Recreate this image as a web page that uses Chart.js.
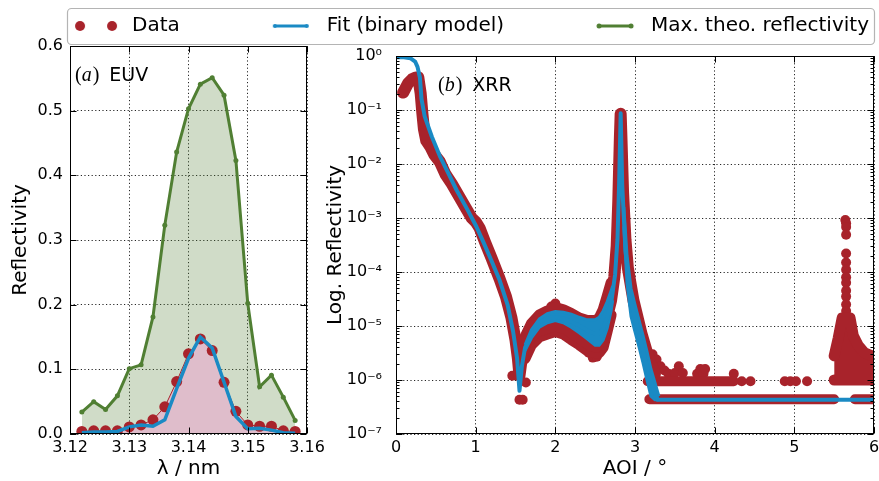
<!DOCTYPE html>
<html>
<head>
<meta charset="utf-8">
<script src="https://cdn.jsdelivr.net/npm/chart.js@4"></script>
<style>
    html, body { margin: 0; padding: 0; background: #fff; }
    #wrap { position: relative; width: 879px; height: 481px; overflow: hidden; }
    canvas { position: absolute; }
    #euvChart { left: -30px; top: 0; }
    #xrrChart { left: 315px; top: 45px; }
</style>
</head>
<body>
<div id="wrap">
    <canvas id="euvChart" width="909" height="481"></canvas>
    <canvas id="xrrChart" width="564" height="436"></canvas>
</div>
<script>
(() => {
    "use strict";

    // (a) EUV reflectivity vs wavelength
    const euvWavelength = [3.122, 3.124, 3.126, 3.128, 3.130, 3.132, 3.134, 3.136, 3.138, 3.140,
        3.142, 3.144, 3.146, 3.148, 3.150, 3.152, 3.154, 3.156, 3.158];
    const euvData = [0.004, 0.005, 0.005, 0.005, 0.011, 0.014, 0.022, 0.042, 0.081, 0.124,
        0.147, 0.129, 0.080, 0.035, 0.014, 0.012, 0.012, 0.005, 0.004];
    const euvFit = [0.002, 0.003, 0.003, 0.004, 0.011, 0.014, 0.012, 0.022, 0.070, 0.117,
        0.150, 0.133, 0.080, 0.027, 0.008, 0.009, 0.006, 0.002, 0.001];
    const euvMaxTheo = [0.034, 0.050, 0.038, 0.059, 0.101, 0.107, 0.181, 0.323, 0.436, 0.503,
        0.541, 0.551, 0.524, 0.423, 0.202, 0.073, 0.091, 0.057, 0.021];
    const euvTicksX = [3.12, 3.13, 3.14, 3.15, 3.16];
    const euvTicksY = [0, 0.1, 0.2, 0.3, 0.4, 0.5, 0.6];

    // (b) XRR, fit curve
    const fitAoi = [0, 0.1, 0.18, 0.24, 0.27, 0.3, 0.32, 0.36, 0.45, 0.55,
        0.65, 0.76, 0.9, 1.01, 1.1, 1.2, 1.3, 1.4, 1.47, 1.52,
        1.55, 1.58, 1.62, 1.7, 1.8, 1.9, 2.0, 2.1, 2.2, 2.3,
        2.4, 2.5, 2.55, 2.6, 2.65, 2.7, 2.75, 2.78, 2.8, 2.82,
        2.84, 2.88, 2.95, 3.05, 3.13, 3.22, 3.28, 4.0, 5.0, 6.0];
    const fitR = [0.95, 0.95, 0.91, 0.79, 0.63, 0.40, 0.16, 0.076, 0.032, 0.014,
        7.1e-3, 3.3e-3, 1.4e-3, 6.9e-4, 3.5e-4, 1.6e-4, 7.1e-5, 2.5e-5, 7.9e-6, 2.5e-6,
        6.3e-7, 1.8e-6, 4.0e-6, 7.1e-6, 1.17e-5, 1.38e-5, 1.45e-5, 1.38e-5, 1.2e-5, 1.02e-5,
        8.3e-6, 7.1e-6, 7.1e-6, 8.9e-6, 1.4e-5, 2.6e-5, 8.9e-5, 4.0e-4, 4.0e-3, 0.087,
        4.0e-3, 2.5e-4, 2.8e-5, 7.4e-6, 2.3e-6, 7.6e-7, 4.3e-7, 4.3e-7, 4.3e-7, 4.3e-7];
    // fast fringes of the fit, drawn as an envelope
    const fitBandAoi = [1.62, 1.7, 1.8, 1.9, 2.0, 2.1, 2.2, 2.3, 2.4, 2.5, 2.55, 2.6, 2.65, 2.7, 2.72];
    const fitBandHi = [4.5e-6, 8.5e-6, 1.35e-5, 1.7e-5, 1.86e-5, 1.8e-5, 1.65e-5, 1.45e-5, 1.3e-5, 1.3e-5,
        1.45e-5, 1.9e-5, 2.8e-5, 4.5e-5, 5.5e-5];
    const fitBandLo = [3.5e-6, 6.0e-6, 9.5e-6, 1.15e-5, 1.26e-5, 1.15e-5, 9.5e-6, 7.5e-6, 5.8e-6, 4.4e-6,
        4.4e-6, 5.5e-6, 9.0e-6, 1.9e-5, 3.0e-5];
    const fitFlankAoi = [2.86, 2.9, 2.95, 3.0, 3.05, 3.1, 3.15, 3.2, 3.25, 3.3];
    const fitFlankHi = [1.6e-3, 2.0e-4, 5.0e-5, 2.5e-5, 1.3e-5, 6.8e-6, 3.4e-6, 1.6e-6, 9.0e-7, 5.0e-7];
    const fitFlankLo = [7.0e-4, 6.0e-5, 1.5e-5, 7.8e-6, 4.1e-6, 2.1e-6, 1.0e-6, 5.0e-7, 4.3e-7, 4.3e-7];

    // (b) XRR, measured data
    const dataAoi = [0.09, 0.15, 0.2, 0.25, 0.28, 0.31, 0.33, 0.35, 0.38, 0.43,
        0.48, 0.55, 0.62, 0.7, 0.8, 0.88, 0.95, 1.0, 1.05, 1.12,
        1.2, 1.3, 1.38, 1.45, 1.5, 1.53, 1.55, 1.57, 1.6, 1.65,
        1.7, 1.8, 1.9, 2.0, 2.1, 2.2, 2.3, 2.4, 2.5, 2.55,
        2.6, 2.65, 2.7, 2.74, 2.77, 2.79, 2.81, 2.82, 2.83, 2.85,
        2.88, 2.91, 2.98, 3.08, 3.18, 3.25];
    const dataR = [0.21, 0.31, 0.37, 0.40, 0.40, 0.2, 0.09, 0.045, 0.027, 0.021,
        0.015, 0.011, 6.5e-3, 4.3e-3, 2.4e-3, 1.5e-3, 1.0e-3, 8.5e-4, 6.5e-4, 3.5e-4,
        1.8e-4, 7.5e-5, 3.5e-5, 1.4e-5, 5.5e-6, 2.5e-6, 1.2e-6, 2.0e-6, 3.8e-6, 6.5e-6,
        9.5e-6, 1.3e-5, 1.45e-5, 1.55e-5, 1.45e-5, 1.3e-5, 1.1e-5, 9.0e-6, 7.5e-6, 7.5e-6,
        9.5e-6, 1.5e-5, 3.0e-5, 8.0e-5, 3.0e-4, 2.0e-3, 0.03, 0.085, 0.03, 3.0e-3,
        4.0e-4, 1.2e-4, 3.0e-5, 7.4e-6, 2.3e-6, 1.3e-6];
    const dataBandAoi = [1.62, 1.7, 1.8, 1.9, 2.0, 2.1, 2.2, 2.3, 2.4, 2.5, 2.55, 2.6, 2.65, 2.7];
    const dataBandHi = [6.3e-6, 1.1e-5, 1.6e-5, 1.9e-5, 2.2e-5, 2.0e-5, 1.7e-5, 1.4e-5, 1.26e-5, 1.26e-5,
        1.4e-5, 2.0e-5, 3.5e-5, 6.3e-5];
    const dataBandLo = [2.5e-6, 4.5e-6, 6.3e-6, 7.1e-6, 7.9e-6, 7.1e-6, 5.6e-6, 4.5e-6, 3.5e-6, 3.2e-6,
        3.2e-6, 4.0e-6, 7.9e-6, 1.6e-5];
    // detector floor: two count levels
    const floorAoi = [3.18, 5.5, 5.63, 5.76, 6.05];
    const floorR = [4.4e-7, 4.4e-7, null, 4.4e-7, 4.4e-7];
    const rowAoi = [3.16, 4.24];
    const rowR = [9.5e-7, 9.5e-7];
    // second order peak near 5.65 deg
    const peakAoi = [5.5, 5.55, 5.6, 5.65, 5.7, 5.74, 5.8, 5.88, 6.05];
    const peakHi = [2.8e-6, 5.9e-6, 1.4e-5, 1.4e-5, 1.4e-5, 6.6e-6, 4.4e-6, 3.2e-6, 2.5e-6];
    const peakLo = [1.0e-6, 1.0e-6, 1.0e-6, 1.0e-6, 1.0e-6, 1.0e-6, 1.0e-6, 1.0e-6, 1.0e-6];
    // single points
    const dotAoi = [1.46, 1.55, 1.59, 1.63, 1.95, 2.0, 2.3, 2.36, 2.42, 2.47, 2.52,
        3.22, 3.27, 3.32, 3.37, 3.42, 3.5, 3.55, 3.6, 3.78, 3.82, 3.86, 3.88, 4.24,
        4.34, 4.45, 4.88, 4.95, 5.02, 5.16,
        5.64, 5.65, 5.65, 5.65, 5.65, 5.65, 5.65, 5.65, 5.65, 5.65, 5.65, 5.65, 5.65];
    const dotR = [1.2e-6, 4.3e-7, 4.3e-7, 9.0e-7, 2.3e-5, 2.6e-5, 5.0e-6, 4.0e-6, 3.2e-6, 2.6e-6, 2.7e-6,
        3.0e-6, 2.4e-6, 1.8e-6, 1.5e-6, 1.3e-6, 1.35e-6, 1.8e-6, 1.35e-6, 1.3e-6, 1.6e-6, 1.3e-6, 1.6e-6, 1.3e-6,
        9.5e-7, 9.5e-7, 9.5e-7, 9.5e-7, 9.5e-7, 9.5e-7,
        9.2e-4, 8.0e-4, 6.8e-4, 4.9e-4, 2.2e-4, 1.5e-4, 1.1e-4, 8.0e-5, 6.3e-5, 4.5e-5, 3.5e-5, 2.5e-5, 1.9e-5];

    const xrrTicksX = [0, 1, 2, 3, 4, 5, 6];
    const xrrDecades = [1e-7, 1e-6, 1e-5, 1e-4, 1e-3, 1e-2, 1e-1, 1];
    const xrrDecadeLabels = ["10\u207B\u2077", "10\u207B\u2076", "10\u207B\u2075", "10\u207B\u2074",
        "10\u207B\u00B3", "10\u207B\u00B2", "10\u207B\u00B9", "10\u2070"];

    const RED = "#a8232b";
    const PINK = "#dfbdcb";
    const BLUE = "#1a8ac4";
    const GREEN = "#507f33";
    const GREEN_FILL = "rgba(80, 127, 51, 0.27)";
    const LEGEND_BOX = 127;

    Chart.defaults.font.family = "'DejaVu Sans', sans-serif";
    Chart.defaults.color = "#000";

    const toPoints = (xs, ys) => xs.map((x, i) => ({ x, y: ys[i] }));

    // legend handles: blank lead-in, then a 32px handle ending 10px before the text box
    const makeHandle = (color, dotRadius, lineWidth) => {
        const c = document.createElement("canvas");
        c.width = LEGEND_BOX;
        c.height = 14;
        const g = c.getContext("2d");
        const x0 = LEGEND_BOX - 42;
        const x1 = LEGEND_BOX - 10;
        g.fillStyle = color;
        g.strokeStyle = color;
        if (lineWidth) {
            g.lineWidth = lineWidth;
            g.beginPath();
            g.moveTo(x0, 7);
            g.lineTo(x1, 7);
            g.stroke();
        }
        [x0, x1].forEach((x) => {
            g.beginPath();
            g.arc(x, 7, dotRadius, 0, Math.PI * 2);
            g.fill();
        });
        return c;
    };
    const legendHandles = [makeHandle(RED, 5, 0), makeHandle(BLUE, 2, 3), makeHandle(GREEN, 2.5, 3)];

    const legendFrame = {
        id: "legendFrame",
        afterDraw(chart) {
            const boxes = chart.legend.legendHitBoxes;
            if (!boxes || !boxes.length) return;
            const ctx = chart.ctx;
            const first = boxes[0];
            const last = boxes[boxes.length - 1];
            const left = Math.round(first.left + LEGEND_BOX - 42 - 13) + 0.5;
            const right = Math.min(Math.round(last.left + last.width + 7), chart.width - 5) + 0.5;
            const cy = first.top + first.height / 2;
            const top = Math.round(cy - 18) + 0.5;
            const bottom = Math.round(cy + 18) + 0.5;
            ctx.save();
            ctx.strokeStyle = "#b4b4b4";
            ctx.lineWidth = 1.2;
            ctx.beginPath();
            ctx.roundRect(left, top, right - left, bottom - top, 4);
            ctx.stroke();
            ctx.restore();
        }
    };

    const frameTicks = (logMinor) => ({
        id: "frameTicks",
        afterDatasetsDraw(chart) {
            const { ctx, chartArea: a, scales: { x, y } } = chart;
            const L = Math.round(a.left) + 0.5;
            const R = Math.round(a.right) - 0.5;
            const T = Math.round(a.top) + 0.5;
            const B = Math.round(a.bottom) - 0.5;
            ctx.save();
            ctx.strokeStyle = "#000";
            ctx.lineWidth = 1;
            ctx.beginPath();
            x.ticks.forEach((t) => {
                const px = Math.round(x.getPixelForValue(t.value)) + 0.5;
                ctx.moveTo(px, T); ctx.lineTo(px, T + 6);
                ctx.moveTo(px, B); ctx.lineTo(px, B - 6);
            });
            y.ticks.forEach((t) => {
                const py = Math.round(y.getPixelForValue(t.value)) + 0.5;
                ctx.moveTo(L, py); ctx.lineTo(L + 6, py);
                ctx.moveTo(R, py); ctx.lineTo(R - 6, py);
            });
            if (logMinor) {
                xrrDecades.slice(0, -1).forEach((d) => {
                    for (let k = 2; k <= 9; k++) {
                        const py = Math.round(y.getPixelForValue(d * k)) + 0.5;
                        ctx.moveTo(L, py); ctx.lineTo(L + 3, py);
                        ctx.moveTo(R, py); ctx.lineTo(R - 3, py);
                    }
                });
            }
            ctx.stroke();
            ctx.strokeRect(L, T, R - L, B - T);
            ctx.restore();
        }
    });

    const panelLabel = (letter, name, dx) => ({
        id: "panelLabel",
        afterDraw(chart) {
            const { ctx, chartArea: a } = chart;
            let x = a.left + dx;
            const y = a.top + 35;
            ctx.save();
            ctx.fillStyle = "#000";
            ctx.textBaseline = "alphabetic";
            ctx.font = "20px 'Liberation Serif'";
            ctx.fillText("(", x, y);
            x += ctx.measureText("(").width;
            ctx.font = "italic 20px 'Liberation Serif'";
            ctx.fillText(letter, x, y);
            x += ctx.measureText(letter).width + 1;
            ctx.font = "20px 'Liberation Serif'";
            ctx.fillText(")", x, y);
            x += ctx.measureText(")").width + 10;
            ctx.font = "19px 'DejaVu Sans'";
            ctx.fillText(name, x, y);
            ctx.restore();
        }
    });

    const gridOpts = { color: "rgba(0, 0, 0, 0.85)", lineWidth: 1, drawTicks: false };
    const borderOpts = { display: false, dash: [1.2, 2.4] };
    const tickFont = { size: 16 };
    const titleFont = { size: 20 };

    // canvas starts 30px left of the page so the shared legend row has room
    new Chart(document.getElementById("euvChart"), {
        type: "line",
        data: {
            datasets: [
                {
                    label: "Data",
                    data: toPoints(euvWavelength, euvData),
                    borderColor: RED,
                    borderWidth: 1,
                    backgroundColor: PINK,
                    fill: "origin",
                    pointRadius: 5.5,
                    pointBackgroundColor: RED,
                    pointBorderWidth: 0,
                    order: 1
                },
                {
                    label: "Fit (binary model)",
                    data: toPoints(euvWavelength, euvFit),
                    borderColor: BLUE,
                    borderWidth: 3.5,
                    pointRadius: 0,
                    fill: false,
                    order: 0
                },
                {
                    label: "Max. theo. reflectivity",
                    data: toPoints(euvWavelength, euvMaxTheo),
                    borderColor: GREEN,
                    borderWidth: 3,
                    backgroundColor: GREEN_FILL,
                    fill: "origin",
                    pointRadius: 2.5,
                    pointBackgroundColor: GREEN,
                    pointBorderWidth: 0,
                    order: 2
                }
            ]
        },
        options: {
            responsive: false,
            animation: false,
            events: [],
            layout: { padding: { top: 6 } },
            plugins: {
                tooltip: { enabled: false },
                legend: {
                    position: "top",
                    align: "end",
                    labels: {
                        usePointStyle: true,
                        pointStyleWidth: LEGEND_BOX,
                        padding: 10,
                        font: { size: 20 },
                        color: "#000",
                        sort: (a, b) => a.datasetIndex - b.datasetIndex,
                        generateLabels: (chart) => Chart.defaults.plugins.legend.labels.generateLabels(chart)
                            .map((item) => ({ ...item, pointStyle: legendHandles[item.datasetIndex] }))
                    }
                }
            },
            scales: {
                x: {
                    type: "linear",
                    min: 3.12,
                    max: 3.16,
                    afterBuildTicks: (s) => { s.ticks = euvTicksX.map((value) => ({ value })); },
                    ticks: { callback: (v) => Number(v).toFixed(2), font: tickFont, padding: 4, maxRotation: 0 },
                    grid: gridOpts,
                    border: borderOpts,
                    title: { display: true, text: "\u03BB / nm", font: titleFont, padding: 0 },
                    afterFit: (s) => { s.height = 47; s.paddingLeft = 0; s.paddingRight = 0; }
                },
                y: {
                    min: 0,
                    max: 0.6,
                    afterBuildTicks: (s) => { s.ticks = euvTicksY.map((value) => ({ value })); },
                    ticks: { callback: (v) => Number(v).toFixed(1), font: tickFont, padding: 7 },
                    grid: gridOpts,
                    border: borderOpts,
                    title: { display: true, text: "Reflectivity", font: titleFont, padding: { top: 39, bottom: 0 } },
                    afterFit: (s) => { s.width = 100; s.paddingTop = 0; s.paddingBottom = 0; }
                },
                spacer: {
                    type: "linear",
                    position: "right",
                    display: false,
                    afterFit: (s) => { s.width = 572; }
                }
            }
        },
        plugins: [legendFrame, frameTicks(false), panelLabel("a", "EUV", 5)]
    });

    const redLine = (data, width) => ({
        data,
        borderColor: RED,
        borderWidth: width,
        borderCapStyle: "round",
        borderJoinStyle: "round",
        pointRadius: 0,
        fill: false,
        order: 5
    });

    const blueEdge = (data, fill) => ({
        data,
        borderColor: BLUE,
        borderWidth: 3,
        backgroundColor: BLUE,
        pointRadius: 0,
        fill,
        order: 1
    });

    new Chart(document.getElementById("xrrChart"), {
        type: "line",
        data: {
            datasets: [
                {
                    label: "Fit (binary model)",
                    data: toPoints(fitAoi, fitR),
                    borderColor: BLUE,
                    borderWidth: 4,
                    borderJoinStyle: "round",
                    pointRadius: 0,
                    fill: false,
                    order: 0
                },
                blueEdge(toPoints(fitBandAoi, fitBandHi), "+1"),
                blueEdge(toPoints(fitBandAoi, fitBandLo), false),
                blueEdge(toPoints(fitFlankAoi, fitFlankHi), "+1"),
                blueEdge(toPoints(fitFlankAoi, fitFlankLo), false),
                { label: "Data", ...redLine(toPoints(dataAoi, dataR), 12) },
                { ...redLine(toPoints(dataBandAoi, dataBandHi), 11), backgroundColor: RED, fill: "+1" },
                redLine(toPoints(dataBandAoi, dataBandLo), 11),
                redLine(toPoints(floorAoi, floorR), 10),
                redLine(toPoints(rowAoi, rowR), 10),
                { ...redLine(toPoints(peakAoi, peakHi), 11), backgroundColor: RED, fill: "+1" },
                redLine(toPoints(peakAoi, peakLo), 11),
                {
                    data: toPoints(dotAoi, dotR),
                    showLine: false,
                    pointRadius: 5,
                    pointBackgroundColor: RED,
                    pointBorderWidth: 0,
                    order: 5
                }
            ]
        },
        options: {
            responsive: false,
            animation: false,
            events: [],
            layout: { padding: { top: 11, right: 2 } },
            plugins: {
                tooltip: { enabled: false },
                legend: { display: false }
            },
            scales: {
                x: {
                    type: "linear",
                    min: 0,
                    max: 6,
                    afterBuildTicks: (s) => { s.ticks = xrrTicksX.map((value) => ({ value })); },
                    ticks: { callback: (v) => String(v), font: tickFont, padding: 4, maxRotation: 0 },
                    grid: gridOpts,
                    border: borderOpts,
                    title: { display: true, text: "AOI / \u00B0", font: titleFont, padding: 0 },
                    afterFit: (s) => { s.height = 47; s.paddingLeft = 0; s.paddingRight = 0; }
                },
                y: {
                    type: "logarithmic",
                    min: 1e-7,
                    max: 1,
                    afterBuildTicks: (s) => { s.ticks = xrrDecades.map((value) => ({ value })); },
                    ticks: { callback: (v, i) => xrrDecadeLabels[i], font: tickFont, padding: 14 },
                    grid: gridOpts,
                    border: borderOpts,
                    title: { display: true, text: "Log. Reflectivity", font: titleFont, padding: { top: 9, bottom: 0 } },
                    afterFit: (s) => { s.width = 81; s.paddingTop = 0; s.paddingBottom = 0; }
                }
            }
        },
        plugins: [frameTicks(true), panelLabel("b", "XRR", 42)]
    });
})();
</script>
</body>
</html>
